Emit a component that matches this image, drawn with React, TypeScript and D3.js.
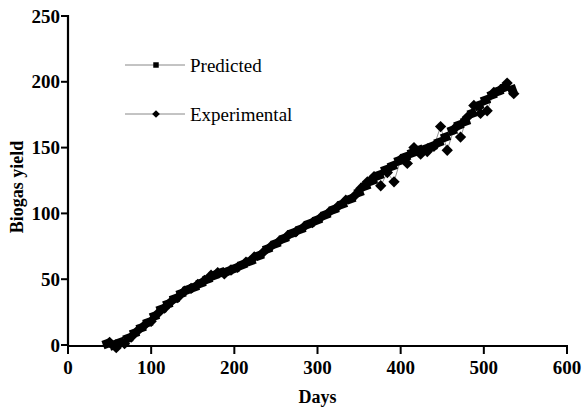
import React from "react";
import * as d3 from "d3";

// Biogas yield over time: model prediction vs. measured values
const predictedDays = [47, 55, 63, 72, 80, 88, 96, 104, 112, 120, 128, 136, 144, 152, 160, 168, 176, 184, 192, 200, 210, 220, 230, 240, 250, 260, 270, 280, 290, 300, 310, 320, 330, 340, 350, 358, 366, 374, 382, 390, 398, 406, 414, 422, 430, 438, 446, 454, 462, 470, 478, 486, 494, 502, 510, 518, 526, 534];
const predictedYield = [1, 0, 2, 5, 9, 13, 17, 22, 27, 31, 35, 39, 42, 44, 47, 50, 53, 55, 56, 58, 61, 64, 68, 73, 77, 81, 85, 88, 92, 95, 99, 103, 107, 111, 116, 121, 125, 129, 133, 136, 140, 143, 146, 148, 149, 151, 154, 158, 163, 167, 170, 176, 182, 186, 190, 193, 196, 194];

const experimentalDays = [50, 58, 68, 76, 84, 92, 100, 108, 116, 124, 132, 140, 148, 156, 164, 172, 180, 188, 196, 204, 214, 224, 234, 244, 254, 264, 274, 284, 294, 304, 314, 324, 334, 344, 352, 360, 368, 376, 384, 392, 400, 408, 416, 424, 432, 440, 448, 456, 464, 472, 480, 488, 496, 504, 512, 520, 528, 536];
const experimentalYield = [2, -2, 1, 6, 11, 15, 18, 24, 28, 33, 36, 41, 43, 46, 49, 53, 55, 54, 57, 59, 63, 67, 70, 75, 79, 83, 86, 90, 93, 97, 101, 105, 110, 113, 119, 124, 128, 121, 131, 124, 141, 138, 150, 145, 147, 151, 166, 148, 164, 158, 173, 182, 176, 178, 192, 194, 199, 191];

const xTicks = [0, 100, 200, 300, 400, 500, 600];
const yTicks = [0, 50, 100, 150, 200, 250];

const W = 582;
const H = 409;
const FONT = "'Liberation Serif', 'DejaVu Serif', serif";

export default function App() {
  const x = d3.scaleLinear().domain([0, 600]).range([68, 567]);
  const y = d3.scaleLinear().domain([0, 250]).range([345, 16]);

  const pred = predictedDays.map((d, i) => [d, predictedYield[i]] as [number, number]);
  const expt = experimentalDays.map((d, i) => [d, experimentalYield[i]] as [number, number]);

  const line = d3
    .line<[number, number]>()
    .x((d) => x(d[0]))
    .y((d) => y(d[1]));

  const square = d3.symbol(d3.symbolSquare, 78)();
  const diamond = d3.symbol(d3.symbolSquare, 64)(); // drawn rotated 45°
  const legSquare = d3.symbol(d3.symbolSquare, 30)();
  const legDiamond = d3.symbol(d3.symbolSquare, 30)();

  const legend = [
    { label: "Predicted", path: legSquare, rot: 0, ly: 65 },
    { label: "Experimental", path: legDiamond, rot: 45, ly: 114 },
  ];

  return (
    <svg
      width={W}
      height={H}
      style={{ position: "absolute", left: 0, top: 0, background: "#fff" }}
      fontFamily={FONT}
    >
      {/* connecting lines */}
      <path d={line(pred) || ""} fill="none" stroke="#777" strokeWidth={0.8} />
      <path d={line(expt) || ""} fill="none" stroke="#777" strokeWidth={0.8} />

      {/* markers */}
      {pred.map((d, i) => (
        <path key={"p" + i} d={square} transform={`translate(${x(d[0])},${y(d[1])}) rotate(-20)`} fill="#000" />
      ))}
      {expt.map((d, i) => (
        <path key={"e" + i} d={diamond} transform={`translate(${x(d[0])},${y(d[1])}) rotate(45)`} fill="#000" />
      ))}

      {/* y axis */}
      <line x1={68} x2={68} y1={y(250) - 1} y2={y(0) + 1} stroke="#000" strokeWidth={2.2} />
      {yTicks.map((t) => (
        <g key={"y" + t}>
          <line x1={61} x2={68} y1={y(t)} y2={y(t)} stroke="#000" strokeWidth={2} />
          <text x={60} y={y(t)} dy="0.35em" textAnchor="end" fontSize={19} fontWeight="bold">
            {t}
          </text>
        </g>
      ))}

      {/* x axis */}
      <line x1={67} x2={x(600) + 1} y1={346} y2={346} stroke="#000" strokeWidth={2.2} />
      {xTicks.map((t) => (
        <g key={"x" + t}>
          <line x1={x(t)} x2={x(t)} y1={346} y2={354} stroke="#000" strokeWidth={2} />
          <text x={x(t)} y={374} textAnchor="middle" fontSize={19} fontWeight="bold">
            {t}
          </text>
        </g>
      ))}

      {/* axis titles */}
      <text x={x(300)} y={403} textAnchor="middle" fontSize={18} fontWeight="bold">
        Days
      </text>
      <text
        transform={`translate(23,${y(120)}) rotate(-90)`}
        textAnchor="middle"
        fontSize={18}
        fontWeight="bold"
      >
        Biogas yield
      </text>

      {/* legend */}
      {legend.map((l) => (
        <g key={l.label}>
          <line x1={125} x2={185} y1={l.ly} y2={l.ly} stroke="#888" strokeWidth={1} />
          <path d={l.path} transform={`translate(156,${l.ly}) rotate(${l.rot})`} fill="#000" />
          <text x={190} y={l.ly} dy="0.35em" fontSize={19}>
            {l.label}
          </text>
        </g>
      ))}
    </svg>
  );
}
